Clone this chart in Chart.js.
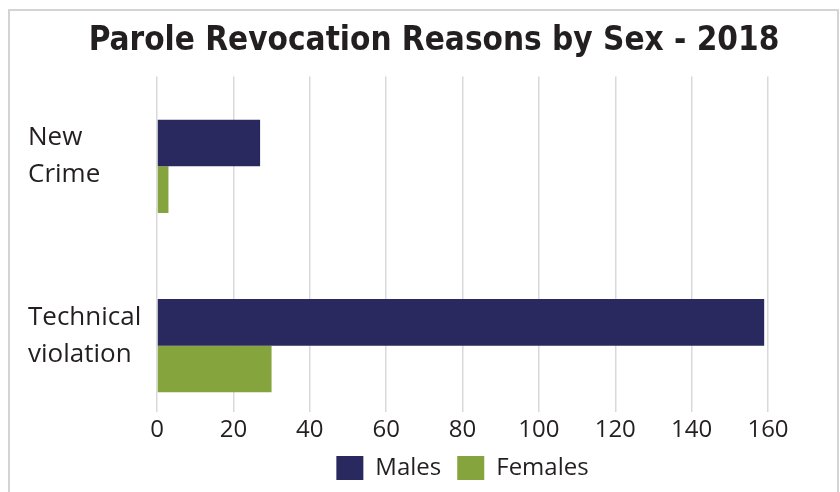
<!DOCTYPE html>
<html>
<head>
<meta charset="utf-8">
<script src="https://cdn.jsdelivr.net/npm/chart.js@4"></script>
<style>
  body { margin: 0; background: #fff; }
  #frame { position: absolute; left: 8px; top: 9px; width: 827px; height: 500px; border: 2px solid #d4d4d4; }
  #chart { position: absolute; left: 0; top: 0; }
</style>
</head>
<body>
<div id="frame"></div>
<canvas id="chart" width="840" height="492"></canvas>
<script>
const categories = [["New", "Crime"], ["Technical", "violation"]];
const males = [27, 159];
const females = [3, 30];
const xMax = 160;
const xStep = 20;

const textColor = "#231f20";
const ctx = document.getElementById("chart").getContext("2d");

new Chart(ctx, {
  type: "bar",
  data: {
    datasets: [
      {
        label: "Males",
        data: males.map((v, i) => ({ x: v, y: i })),
        backgroundColor: "#29285f"
      },
      {
        label: "Females",
        data: females.map((v, i) => ({ x: v, y: i })),
        backgroundColor: "#86a43e"
      }
    ]
  },
  options: {
    indexAxis: "y",
    responsive: false,
    animation: false,
    layout: { padding: { left: 28, right: 0, top: 0, bottom: 2 } },
    categoryPercentage: 0.52,
    barPercentage: 1,
    scales: {
      x: {
        min: 0,
        max: xMax,
        grid: { color: "#d9d9d9", lineWidth: 1.5, drawTicks: false },
        border: { display: false },
        ticks: {
          stepSize: xStep,
          padding: 4,
          color: textColor,
          font: { family: "Open Sans", size: 24 }
        },
        afterFit: (s) => { s.height = 28; }
      },
      y: {
        type: "linear",
        reverse: true,
        min: -0.5,
        max: 1.37,
        offset: false,
        grid: { display: false },
        border: { display: false },
        ticks: {
          stepSize: 1,
          includeBounds: false,
          autoSkip: false,
          crossAlign: "far",
          labelOffset: -10,
          color: textColor,
          font: { family: "Open Sans", size: 26, lineHeight: 1.42 },
          callback: (v) => Number.isInteger(v) ? categories[v] : ""
        },
        afterFit: (s) => { s.width = 129; }
      },
      r: {
        type: "linear",
        position: "right",
        grid: { display: false },
        border: { display: false },
        ticks: { display: false },
        afterFit: (s) => { s.width = 72; }
      }
    },
    plugins: {
      title: {
        display: true,
        text: "Parole Revocation Reasons by Sex - 2018",
        color: textColor,
        font: { family: "'DejaVu Sans Condensed', sans-serif", size: 33, weight: "bold", lineHeight: 1.2 },
        padding: { top: 22, bottom: 15 }
      },
      legend: {
        position: "bottom",
        fullSize: false,
        labels: {
          boxWidth: 27,
          boxHeight: 24,
          padding: 16,
          color: textColor,
          font: { family: "Open Sans", size: 24 }
        }
      },
      tooltip: { enabled: false }
    }
  }
});
</script>
</body>
</html>
